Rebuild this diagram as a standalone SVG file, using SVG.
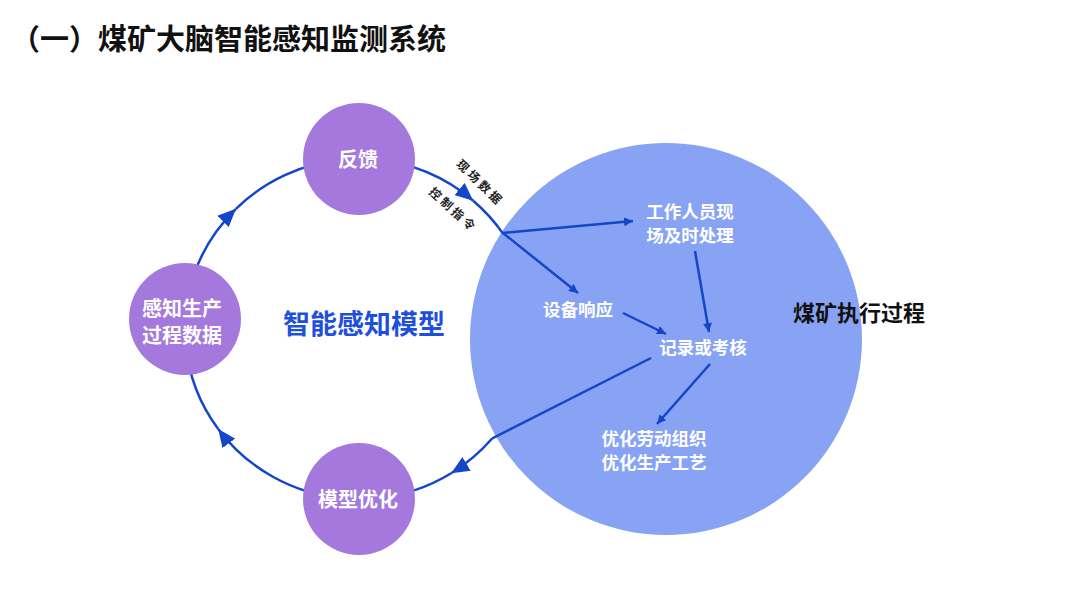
<svg xmlns="http://www.w3.org/2000/svg" width="1080" height="608" viewBox="0 0 1080 608">
<defs>
<style>
.cjk{font-family:"Noto Sans CJK SC","Noto Sans",sans-serif;}
.title{font-size:29px;font-weight:700;fill:#111;}
.pnode{fill:#A478DD;}
.ptext{font-size:20px;font-weight:700;fill:#fff;text-anchor:middle;}
.wtext{font-size:17.5px;font-weight:700;fill:#fff;text-anchor:middle;}
.loop{fill:none;stroke:#1446C9;stroke-width:2.5;}
.inner{fill:none;stroke:#1446C9;stroke-width:2.5;}
.big{marker-end:url(#bigArrow);}
.small{marker-end:url(#smallArrow);}
.rot{font-size:12px;font-weight:700;fill:#222;text-anchor:middle;letter-spacing:3px;}
</style>
<marker id="bigArrow" markerUnits="userSpaceOnUse" markerWidth="20" markerHeight="16" refX="18" refY="8" orient="auto">
<path d="M0,0 L18,8 L0,16 z" fill="#1446C9"/>
</marker>
<marker id="smallArrow" markerUnits="userSpaceOnUse" markerWidth="10" markerHeight="9" refX="9" refY="4.5" orient="auto">
<path d="M0,0 L9,4.5 L0,9 z" fill="#1446C9"/>
</marker>
</defs>
<rect width="1080" height="608" fill="#fff"/>
<text class="cjk title" x="11" y="50">（一）煤矿大脑智能感知监测系统</text>

<g id="coal-process">
<circle cx="666" cy="339" r="196" fill="#88A3F4"/>
<text class="cjk" x="859" y="321" font-size="22" font-weight="700" fill="#111" text-anchor="middle">煤矿执行过程</text>
</g>

<g id="connectors">
<path class="loop big" d="M187.6,299.5 A174,170 0 0 1 236,208.8"/>
<path class="loop" d="M236,208.8 A174,170 0 0 1 343.8,159.6"/>
<path class="loop big" d="M374.2,159.6 A174,170 0 0 1 473.2,200.7"/>
<path class="loop" d="M473.2,200.7 A174,170 0 0 1 503.2,233.9"/>
<path class="loop big" d="M492.3,438.3 A174,170 0 0 1 451.2,473.2"/>
<path class="loop" d="M451.2,473.2 A174,170 0 0 1 374.2,498.4"/>
<path class="loop big" d="M343.8,498.4 A174,170 0 0 1 218.2,428.9"/>
<path class="loop" d="M218.2,428.9 A174,170 0 0 1 185.7,343.8"/>
<path class="inner small" d="M503,233 L633,221"/>
<path class="inner small" d="M503,233 L578,293"/>
<path class="inner small" d="M623,313 L666,334"/>
<path class="inner small" d="M695,251 L709,332"/>
<path class="inner small" d="M710,364 L657,424"/>
<path class="inner" d="M651,358 L492.3,438.3"/>
<text class="cjk rot" transform="translate(481,182) rotate(44)" dominant-baseline="central">现场数据</text>
<text class="cjk rot" transform="translate(454,209) rotate(42)" dominant-baseline="central">控制指令</text>
</g>

<g id="feedback">
<circle class="pnode" cx="359" cy="159" r="56"/>
<text class="cjk ptext" x="358" y="167">反馈</text>
</g>
<g id="perception-data">
<circle class="pnode" cx="185" cy="319" r="56"/>
<text class="cjk ptext" x="182" y="316">感知生产</text>
<text class="cjk ptext" x="182" y="343">过程数据</text>
</g>
<g id="model-optimization">
<circle class="pnode" cx="359" cy="499" r="56"/>
<text class="cjk ptext" x="358" y="507">模型优化</text>
</g>
<g id="model-label">
<text class="cjk" x="364" y="334" font-size="27" font-weight="700" fill="#1E50DC" text-anchor="middle">智能感知模型</text>
</g>
<g id="staff-handling">
<text class="cjk wtext" x="690" y="218">工作人员现</text>
<text class="cjk wtext" x="690" y="242">场及时处理</text>
</g>
<g id="device-response">
<text class="cjk wtext" x="578" y="316">设备响应</text>
</g>
<g id="record-assess">
<text class="cjk wtext" x="703" y="354">记录或考核</text>
</g>
<g id="optimize">
<text class="cjk wtext" x="654" y="445">优化劳动组织</text>
<text class="cjk wtext" x="654" y="469">优化生产工艺</text>
</g>
</svg>
